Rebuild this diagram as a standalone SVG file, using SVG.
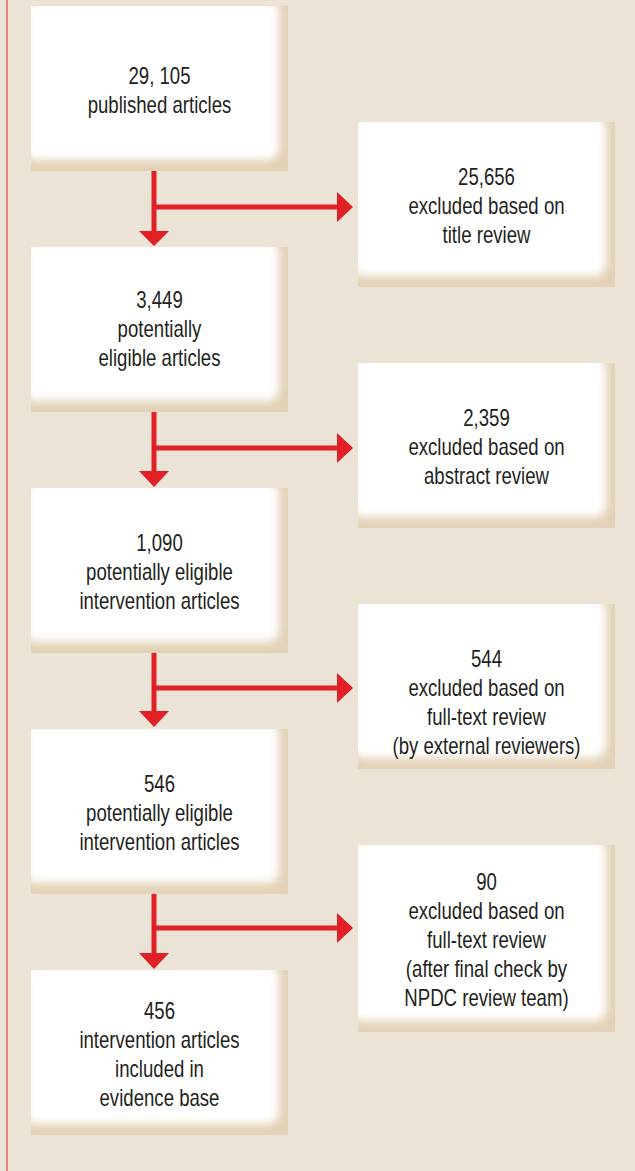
<svg xmlns="http://www.w3.org/2000/svg" width="635" height="1171" viewBox="0 0 635 1171">
<style>
.t{font-family:"Liberation Sans",Arial,sans-serif;font-size:24px;fill:#231f20;text-anchor:middle}
.ln{stroke:#e01f27;stroke-width:5;fill:none}
.ah{fill:#e01f27}
</style>
<defs>
<filter id="bl" x="-0.2" y="-0.2" width="1.4" height="1.4"><feGaussianBlur stdDeviation="4"/></filter>
<symbol id="bx" overflow="hidden">
<rect x="0" y="0" width="257" height="165" fill="#e2d2b7"/>
<rect x="-6" y="-6" width="254" height="160" rx="12" fill="#fff" filter="url(#bl)"/>
</symbol>
<symbol id="bx2" overflow="hidden">
<rect x="0" y="0" width="257" height="187" fill="#e2d2b7"/>
<rect x="-6" y="-6" width="254" height="182" rx="12" fill="#fff" filter="url(#bl)"/>
</symbol>
</defs>
<rect width="635" height="1171" fill="#ebe3d5"/>
<rect x="6" y="0" width="2" height="1171" fill="#ef7f83"/>

<g id="connectors">
<path class="ln" d="M154 171V231M154 207H338"/>
<path class="ah" d="M139 231H169L154 246Z M337 192L353 207L337 222Z"/>
<path class="ln" d="M154 412V472M154 448H338"/>
<path class="ah" d="M139 471H169L154 487Z M337 433L353 448L337 463Z"/>
<path class="ln" d="M154 653V712M154 688H338"/>
<path class="ah" d="M139 711H169L154 727Z M337 673L353 688L337 703Z"/>
<path class="ln" d="M154 894V954M154 928H338"/>
<path class="ah" d="M139 953H169L154 969Z M337 913L353 928L337 943Z"/>
</g>

<g id="n1">
<use href="#bx" x="31" y="6" width="257" height="165"/>
<g transform="translate(159.5 0) scale(0.775 1)">
<text class="t" x="0" y="84">29, 105</text>
<text class="t" x="0" y="113">published articles</text>
</g>
</g>
<g id="n2">
<use href="#bx" x="31" y="247" width="257" height="165"/>
<g transform="translate(159.5 0) scale(0.775 1)">
<text class="t" x="0" y="308.5">3,449</text>
<text class="t" x="0" y="337.5">potentially</text>
<text class="t" x="0" y="366.5">eligible articles</text>
</g>
</g>
<g id="n3">
<use href="#bx" x="31" y="488" width="257" height="165"/>
<g transform="translate(159.5 0) scale(0.775 1)">
<text class="t" x="0" y="551.5">1,090</text>
<text class="t" x="0" y="580.5">potentially eligible</text>
<text class="t" x="0" y="609.5">intervention articles</text>
</g>
</g>
<g id="n4">
<use href="#bx" x="31" y="729" width="257" height="165"/>
<g transform="translate(159.5 0) scale(0.775 1)">
<text class="t" x="0" y="792.5">546</text>
<text class="t" x="0" y="821.5">potentially eligible</text>
<text class="t" x="0" y="850.5">intervention articles</text>
</g>
</g>
<g id="n5">
<use href="#bx" x="31" y="970" width="257" height="165"/>
<g transform="translate(159.5 0) scale(0.775 1)">
<text class="t" x="0" y="1019">456</text>
<text class="t" x="0" y="1048">intervention articles</text>
<text class="t" x="0" y="1077">included in</text>
<text class="t" x="0" y="1106">evidence base</text>
</g>
</g>

<g id="r1">
<use href="#bx" x="358" y="122" width="257" height="165"/>
<g transform="translate(486.5 0) scale(0.775 1)">
<text class="t" x="0" y="185.5">25,656</text>
<text class="t" x="0" y="214.5">excluded based on</text>
<text class="t" x="0" y="243.5">title review</text>
</g>
</g>
<g id="r2">
<use href="#bx" x="358" y="363" width="257" height="165"/>
<g transform="translate(486.5 0) scale(0.775 1)">
<text class="t" x="0" y="426.5">2,359</text>
<text class="t" x="0" y="455.5">excluded based on</text>
<text class="t" x="0" y="484.5">abstract review</text>
</g>
</g>
<g id="r3">
<use href="#bx" x="358" y="604" width="257" height="165"/>
<g transform="translate(486.5 0) scale(0.775 1)">
<text class="t" x="0" y="667.5">544</text>
<text class="t" x="0" y="696.5">excluded based on</text>
<text class="t" x="0" y="725.5">full-text review</text>
<text class="t" x="0" y="754.5">(by external reviewers)</text>
</g>
</g>
<g id="r4">
<use href="#bx2" x="358" y="845" width="257" height="187"/>
<g transform="translate(486.5 0) scale(0.775 1)">
<text class="t" x="0" y="890.5">90</text>
<text class="t" x="0" y="919.5">excluded based on</text>
<text class="t" x="0" y="948.5">full-text review</text>
<text class="t" x="0" y="977.5">(after final check by</text>
<text class="t" x="0" y="1006.5">NPDC review team)</text>
</g>
</g>
</svg>
